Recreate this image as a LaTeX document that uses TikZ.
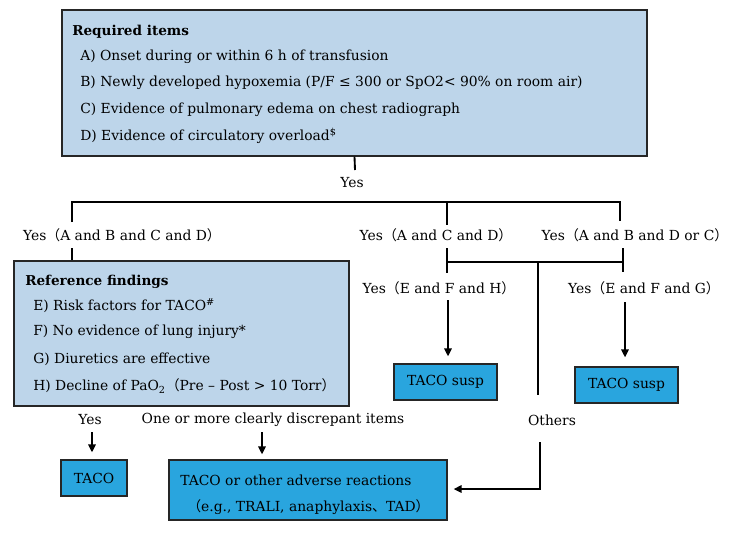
\documentclass[tikz,border=0pt]{standalone}
\usepackage{fontspec}
\setmainfont{DejaVu Serif}
\newfontfamily\cjk{Noto Sans CJK JP}
\usetikzlibrary{arrows.meta,fit}
\definecolor{paleblue}{RGB}{189,213,234}
\definecolor{skyblue}{RGB}{41,165,222}
\newcommand{\lpar}{{\cjk （}}
\newcommand{\rpar}{{\cjk ）}}
\newcommand{\jcomma}{{\cjk 、}}

\begin{document}
\begin{tikzpicture}[x=0.75pt,y=-0.75pt,
  font=\fontsize{10.4}{12}\selectfont,
  infobox/.style={draw=black!85, line width=0.9pt, fill=paleblue, inner sep=0pt},
  resultbox/.style={draw=black!85, line width=0.9pt, fill=skyblue, inner sep=0pt},
  item/.style={anchor=west, inner sep=0pt},
  heading/.style={anchor=west, inner sep=0pt, font=\fontsize{10.2}{12}\selectfont\bfseries},
  lbl/.style={inner sep=0pt},
  link/.style={line width=1.4pt},
  arrowlink/.style={line width=1.4pt, -{Triangle[length=6pt,width=5.5pt]}}]
\useasboundingbox (0,0) rectangle (729,544);

% --- boxes ---
\node[infobox, fit={(62,10) (647,156)}] (req) {};
\node[infobox, fit={(14,261) (349,406)}] (ref) {};
\node[resultbox, fit={(394,364) (497,400)}] (susp1) {};
\node[resultbox, fit={(575,367) (678,403)}] (susp2) {};
\node[resultbox, fit={(61,460) (127,496)}] (taco) {};
\node[resultbox, fit={(169,460) (447,520)}] (other) {};

% --- required items ---
\node[heading] (reqtitle) at (72,32) {Required items};
\node[item] (reqA) at (80,57) {A) Onset during or within 6 h of transfusion};
\node[item] (reqB) at (80,83) {B) Newly developed hypoxemia (P/F ≤ 300 or SpO2< 90\% on room air)};
\node[item] (reqC) at (80,110) {C) Evidence of pulmonary edema on chest radiograph};
\node[item] (reqD) at (80,136) {D) Evidence of circulatory overload\textsuperscript{\$}};

% --- reference findings ---
\node[heading] (reftitle) at (25,282) {Reference findings};
\node[item] (refE) at (33,306) {E) Risk factors for TACO\textsuperscript{\#}};
\node[item] (refF) at (33,332) {F) No evidence of lung injury*};
\node[item] (refG) at (33,359) {G) Diuretics are effective};
\node[item] (refH) at (33,386) {H) Decline of PaO\textsubscript{2}\lpar Pre – Post > 10 Torr\rpar};

% --- results ---
\node[lbl] (susp1txt) at (susp1.center) {TACO susp};
\node[lbl] (susp2txt) at (susp2.center) {TACO susp};
\node[lbl] (tacotxt) at (taco.center) {TACO};
\node[item] (other1) at (180,480) {TACO or other adverse reactions};
\node[item] (other2) at (187,507) {\lpar e.g., TRALI, anaphylaxis\jcomma TAD\rpar};

% --- branch labels ---
\node[lbl] (yes0) at (352,183) {Yes};
\node[lbl] (labABCD) at (122,235) {Yes\lpar A and B and C and D\rpar};
\node[lbl] (labACD) at (436,235) {Yes\lpar A and C and D\rpar};
\node[lbl] (labABDC) at (635,235) {Yes\lpar A and B and D or C\rpar};
\node[lbl] (labEFH) at (439,288) {Yes\lpar E and F and H\rpar};
\node[lbl] (labEFG) at (644,288) {Yes\lpar E and F and G\rpar};
\node[lbl] (labYes) at (90,420) {Yes};
\node[lbl] (labDisc) at (273,420) {One or more clearly discrepant items};
\node[lbl] (labOthers) at (552,420) {Others};

% --- junction points ---
\coordinate (stem) at (355,170);
\coordinate (barL) at (72,202);
\coordinate (barM) at (447,202);
\coordinate (barR) at (620,202);
\coordinate (dropL) at (72,222);
\coordinate (dropM) at (447,225);
\coordinate (dropR) at (620,221);
\coordinate (refIn) at (72,248);
\coordinate (subL) at (447,248);
\coordinate (subLj) at (447,262);
\coordinate (subLe) at (447,273);
\coordinate (subR) at (623,248);
\coordinate (subRj) at (623,262);
\coordinate (subRe) at (623,272);
\coordinate (subM) at (538,262);
\coordinate (subMe) at (538,395);
\coordinate (arrEFH) at (448,300);
\coordinate (arrEFG) at (625,302);
\coordinate (othTop) at (540,442);
\coordinate (othCorner) at (540,489);
\coordinate (arrYes) at (92,432);
\coordinate (arrDisc) at (262,432);

% --- connectors ---
\draw[link] (req.south) -- (stem);
\draw[link] (dropL) -- (barL) -- (barR) -- (dropR);
\draw[link] (barM) -- (dropM);
\draw[link] (refIn) -- (ref.north -| refIn);
\draw[link] (subL) -- (subLe);
\draw[link] (subR) -- (subRe);
\draw[link] (subLj) -- (subRj);
\draw[link] (subM) -- (subMe);
\draw[arrowlink, shorten >=5.25pt] (arrEFH) -- (susp1.north -| arrEFH);
\draw[arrowlink, shorten >=6.75pt] (arrEFG) -- (susp2.north -| arrEFG);
\draw[arrowlink, shorten >=4.5pt] (othTop) -- (othCorner) -- (other.east |- othCorner);
\draw[arrowlink, shorten >=5.25pt] (arrYes) -- (taco.north -| arrYes);
\draw[arrowlink, shorten >=3.75pt] (arrDisc) -- (other.north -| arrDisc);
\end{tikzpicture}
\end{document}
